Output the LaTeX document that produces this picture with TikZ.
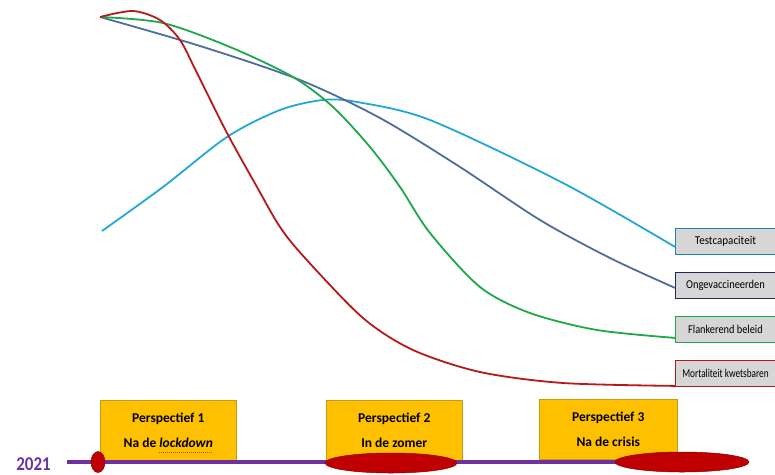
\documentclass[tikz,border=0pt]{standalone}
\usepackage{fontspec}
\setmainfont{Carlito}
\usetikzlibrary{calc,shapes.geometric}
\definecolor{cRed}{HTML}{B51A1A}
\definecolor{cGreen}{HTML}{1FA84A}
\definecolor{cBlue}{HTML}{4E6C9E}
\definecolor{cCyan}{HTML}{22A7D8}
\definecolor{cNavy}{HTML}{1F2B4D}
\definecolor{cOrange}{HTML}{FFC000}
\definecolor{cOrangeDk}{HTML}{C49A1A}
\definecolor{cPurple}{HTML}{7030A0}
\definecolor{cGray}{HTML}{D6D6D6}
\definecolor{cEll}{HTML}{C00000}
\definecolor{cSpell}{HTML}{E8352E}
\newcommand{\sqz}[2]{\scalebox{#1}[1]{#2}}
\tikzset{
  curve/.style={line width=1.8pt, smooth, tension=0.5},
  lbl/.style={draw, line width=0.9pt, fill=cGray, minimum width=100pt, minimum height=26pt,
     anchor=north west, inner sep=1pt, font=\fontsize{12}{13}\selectfont},
  persp/.style={draw=cOrangeDk, line width=0.6pt, fill=cOrange, minimum width=136pt, minimum height=60pt,
     anchor=north west, align=center, font=\fontsize{13.5}{25}\selectfont\bfseries},
  blob/.style={ellipse, fill=cEll, draw=cEll!70!black, line width=0.5pt, inner sep=0pt},
}
\begin{document}
\begin{tikzpicture}[x=1pt,y=-1pt]
\useasboundingbox (0,0) rectangle (775,474);
\begin{scope}
\clip (0,0) rectangle (775,474);
% label boxes
\node[lbl, draw=cCyan!80!black] (lt) at (675,228) {\sqz{0.92}{Testcapaciteit}};
\node[lbl, draw=cNavy] (lo) at (675,272) {\sqz{0.87}{Ongevaccineerden}};
\node[lbl, draw=cGreen] (lf) at (675,316) {\sqz{0.86}{Flankerend beleid}};
\node[lbl, draw=cRed] (lm) at (675,360) {\sqz{0.77}{Mortaliteit kwetsbaren}};
\end{scope}
% curve ends
\coordinate (s) at (100,17);
\coordinate (cs) at (102,231);
\coordinate (et) at ($(lt.south west)+(0,-8)$);
\coordinate (eo) at ($(lo.south west)+(0,-11)$);
\coordinate (ef) at ($(lf.south west)+(0,-5)$);
\coordinate (em) at ($(lm.south west)+(0,-1)$);
% curves
\draw[curve, cCyan] plot coordinates {(cs) (163,187) (227,137) (280,110) (323,100) (357,102) (430,120) (563,183) (et)};
\draw[curve, cBlue] plot coordinates {(s) (200,46) (300,80) (380,118) (460,167) (540,220) (610,258) (eo)};
\draw[curve, cGreen] plot coordinates {(s) (163,23) (230,47) (293,77) (333,107) (370,147) (400,187) (430,233) (480,287) (530,313) (597,330) (ef)};
\draw[curve, cRed] plot coordinates {(s) (133,11) (160,20) (180,40) (197,73) (227,133) (257,187) (280,227) (305,258) (363,318) (413,350) (480,372) (563,383) (em)};
% perspective boxes
\node[persp] (p1) at (100,400) {Perspectief 1\\Na de \textit{lockdown}};
\node[persp] (p2) at (326,400) {Perspectief 2\\In de zomer};
\node[persp, minimum width=138pt] (p3) at (539,399) {Perspectief 3\\Na de crisis};
\coordinate (ul1) at (159,452);
\coordinate (ul2) at (213,452);
\draw[cSpell, line width=0.8pt, dash pattern=on 1pt off 1pt] (ul1) -- (ul2);
% timeline
\node[font=\fontsize{17}{17}\selectfont\bfseries, text=cPurple, anchor=east, inner sep=0pt] (yr) at (51,464) {\scalebox{1}[1.15]{2021}};
\coordinate (tl0) at (67,462);
\coordinate (c1) at (98,462);
\coordinate (c2) at (391,463);
\coordinate (c3) at (682,462);
\draw[cPurple, line width=3.5pt] (tl0) -- (c3);
\node[blob, minimum width=14pt, minimum height=21pt] (e1) at (c1) {};
\node[blob, minimum width=132pt, minimum height=20pt] (e2) at (c2) {};
\node[blob, minimum width=134pt, minimum height=20pt] (e3) at (c3) {};
\end{tikzpicture}
\end{document}
